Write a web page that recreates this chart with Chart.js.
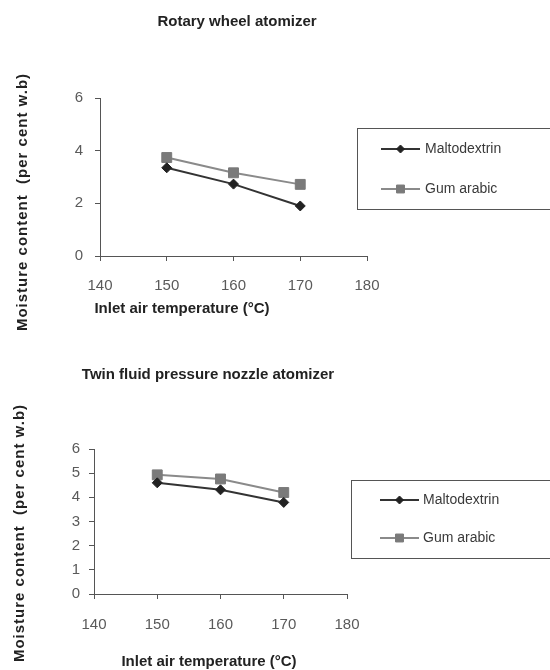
<!DOCTYPE html>
<html><head><meta charset="utf-8">
<script src="https://cdn.jsdelivr.net/npm/chart.js@4.4.0/dist/chart.umd.min.js"></script>
<style>
html,body{margin:0;padding:0;background:#fff;}
#wrap{position:relative;width:550px;height:670px;overflow:hidden;background:#fff;}
canvas{position:absolute;left:0;}
</style></head><body>
<div id="wrap">
<canvas id="c1" width="550" height="335" style="top:0"></canvas>
<canvas id="c2" width="550" height="335" style="top:335px"></canvas>
</div>
<script>
const temperatures = [150, 160, 170];
const seriesNames = ['Maltodextrin', 'Gum arabic'];
const rotaryMaltodextrin = [3.35, 2.73, 1.9];
const rotaryGumArabic = [3.74, 3.16, 2.72];
const nozzleMaltodextrin = [4.6, 4.31, 3.79];
const nozzleGumArabic = [4.93, 4.76, 4.2];
const xTicks = [140, 150, 160, 170, 180];
const rotaryYTicks = [0, 2, 4, 6];
const nozzleYTicks = [0, 1, 2, 3, 4, 5, 6];
const chartTitles = ['Rotary wheel atomizer', 'Twin fluid pressure nozzle atomizer'];
const xTitle = 'Inlet air temperature (\u00B0C)';
const yTitle = 'Moisture content  (per cent w.b)';

const FONT = '"Liberation Sans", Arial, sans-serif';

function makeDataset(label, values, lineColor, markerColor, style, radius) {
  return {
    label: label,
    data: temperatures.map((t, i) => ({ x: t, y: values[i] })),
    borderColor: lineColor,
    backgroundColor: markerColor,
    pointBackgroundColor: markerColor,
    pointBorderColor: markerColor,
    pointStyle: style,
    pointRadius: radius,
    pointBorderWidth: 1,
    borderWidth: 2,
    tension: 0,
    fill: false
  };
}

function decorPlugin(cfg) {
  return {
    id: 'decor',
    afterDraw(chart) {
      const ctx = chart.ctx;
      ctx.save();
      ctx.fillStyle = '#222';
      ctx.textAlign = 'center';
      ctx.textBaseline = 'middle';
      ctx.font = 'bold 15px ' + FONT;
      ctx.fillText(cfg.title, cfg.titleX, cfg.titleY);
      ctx.fillText(xTitle, cfg.xTitleX, cfg.xTitleY);
      ctx.save();
      ctx.translate(cfg.yTitleX, cfg.yTitleY);
      ctx.rotate(-Math.PI / 2);
      ctx.letterSpacing = '1px';
      ctx.fillText(yTitle, 0, 0);
      ctx.restore();
      // legend
      const L = cfg.legend;
      ctx.strokeStyle = '#555';
      ctx.lineWidth = 1;
      ctx.strokeRect(L.x + 0.5, L.y + 0.5, L.w, L.h);
      chart.data.datasets.forEach((d, i) => {
        const y = L.rows[i];
        ctx.strokeStyle = d.borderColor;
        ctx.lineWidth = d.borderWidth;
        ctx.beginPath();
        ctx.moveTo(L.x1, y);
        ctx.lineTo(L.x2, y);
        ctx.stroke();
        ctx.fillStyle = d.pointBackgroundColor;
        ctx.strokeStyle = d.pointBorderColor;
        ctx.lineWidth = 1;
        Chart.helpers.drawPoint(ctx, { pointStyle: d.pointStyle, radius: d.pointRadius * 0.8, rotation: 0, borderWidth: 1 }, (L.x1 + L.x2) / 2, y);
        ctx.fillStyle = '#3a3a3a';
        ctx.textAlign = 'left';
        ctx.font = '14px ' + FONT;
        ctx.fillText(d.label, L.tx, y);
      });
      ctx.restore();
    }
  };
}

function makeChart(id, m, g, yTicks, yMax, area, ypad, xpad, cfg) {
  const H = 335;
  return new Chart(document.getElementById(id), {
    type: 'line',
    data: {
      datasets: [
        makeDataset(seriesNames[0], m, '#333', '#222', 'rectRot', 5),
        makeDataset(seriesNames[1], g, '#8a8a8a', '#7a7a7a', 'rect', 7)
      ]
    },
    options: {
      responsive: false,
      animation: false,
      events: [],
      layout: { padding: { left: 0, top: area.top, right: 550 - area.right, bottom: H - area.bottom - 45 } },
      plugins: { legend: { display: false }, title: { display: false }, tooltip: { enabled: false } },
      scales: {
        x: {
          type: 'linear', min: 140, max: 180,
          afterBuildTicks: s => { s.ticks = xTicks.map(v => ({ value: v })); },
          afterFit: s => { s.height = 45; },
          grid: { drawOnChartArea: false, drawTicks: true, tickLength: 5, color: '#555' },
          border: { display: true, color: '#555', width: 1 },
          ticks: { color: '#5a5a5a', font: { family: FONT, size: 15 }, padding: xpad, maxRotation: 0 }
        },
        y: {
          type: 'linear', min: 0, max: yMax,
          afterBuildTicks: s => { s.ticks = yTicks.map(v => ({ value: v })); },
          afterFit: s => { s.width = area.left; },
          grid: { drawOnChartArea: false, drawTicks: true, tickLength: 5, color: '#555' },
          border: { display: true, color: '#555', width: 1 },
          ticks: { color: '#5a5a5a', font: { family: FONT, size: 15 }, padding: ypad }
        }
      }
    },
    plugins: [decorPlugin(cfg)]
  });
}

makeChart('c1', rotaryMaltodextrin, rotaryGumArabic, rotaryYTicks, 6,
  { left: 100, right: 367, top: 98, bottom: 256 }, 12, 16,
  { title: chartTitles[0], titleX: 237, titleY: 22, xTitleX: 182, xTitleY: 309, yTitleX: 23, yTitleY: 202,
    legend: { x: 357, y: 128, w: 210, h: 81, rows: [149, 189], x1: 381, x2: 420, tx: 425 } });

makeChart('c2', nozzleMaltodextrin, nozzleGumArabic, nozzleYTicks, 6,
  { left: 94, right: 347, top: 114, bottom: 259 }, 9, 17,
  { title: chartTitles[1], titleX: 208, titleY: 40, xTitleX: 209, xTitleY: 327, yTitleX: 20, yTitleY: 198,
    legend: { x: 351, y: 145, w: 210, h: 78, rows: [165, 203], x1: 380, x2: 419, tx: 423 } });
</script>
</body></html>
